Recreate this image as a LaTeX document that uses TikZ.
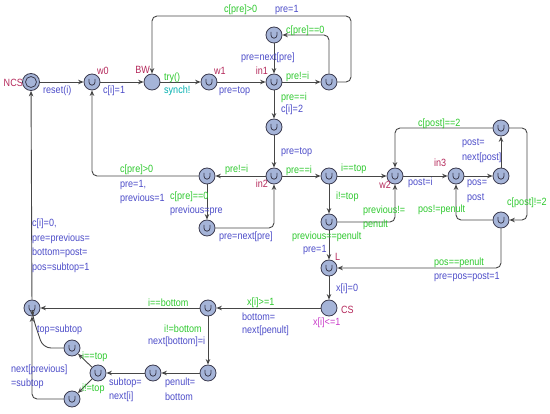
\documentclass[tikz,border=0pt]{standalone}
\usepackage{fontspec}
\setmainfont{Liberation Sans}[FakeStretch=0.86]
\usetikzlibrary{arrows.meta}
\definecolor{nfill}{RGB}{165,180,216}
\definecolor{nline}{RGB}{60,60,80}
\definecolor{ecol}{RGB}{70,70,70}
\definecolor{gcol}{RGB}{45,200,45}
\definecolor{acol}{RGB}{75,75,200}
\definecolor{ncol}{RGB}{180,40,90}
\definecolor{scol}{RGB}{0,175,175}
\definecolor{icol}{RGB}{200,60,200}
\tikzset{
  loc/.style={circle, draw=nline, fill=nfill, line width=0.8pt, minimum size=16pt, inner sep=0pt},
  urg/.style={loc, path picture={\draw[nline, line width=0.8pt] ([xshift=-3pt,yshift=3.2pt]path picture bounding box.center) -- ++(0,-3.4pt) arc (180:360:3pt) -- ++(0,3.4pt);}},
  initloc/.style={loc, minimum size=17pt, path picture={\draw[nline, line width=0.8pt] (path picture bounding box.center) circle (5.5pt);}},
  arr/.style={draw=ecol, line width=0.9pt, -{Stealth[length=5.5pt,width=4.5pt]}, rounded corners=5pt},
  lbl/.style={font=\fontsize{10.5}{11}\selectfont, inner sep=0pt, anchor=west},
  grd/.style={lbl, text=gcol},
  asg/.style={lbl, text=acol},
  lname/.style={lbl, text=ncol},
  syn/.style={lbl, text=scol},
  inv/.style={lbl, text=icol}
}
\begin{document}
\begin{tikzpicture}[x=1pt,y=-1pt]
\useasboundingbox (0,0) rectangle (550,414);
% locations
\node[initloc] (NCS) at (31,82) {};
\node[urg] (w0) at (92,82) {};
\node[loc] (BW) at (152,82) {};
\node[urg] (w1) at (209,82) {};
\node[urg] (in1) at (274,82) {};
\node[urg] (a1) at (274,35) {};
\node[urg] (b1) at (329,82) {};
\node[urg] (c1) at (274,127) {};
\node[urg] (in2) at (274,176) {};
\node[urg] (d1) at (207,176) {};
\node[urg] (d2) at (207,228) {};
\node[urg] (e1) at (329,176) {};
\node[urg] (e2) at (329,222) {};
\node[urg] (w2) at (395,176) {};
\node[urg] (in3) at (456,176) {};
\node[urg] (f1) at (501,176) {};
\node[urg] (f2) at (501,128) {};
\node[urg] (f3) at (501,220) {};
\node[urg] (L) at (329,268) {};
\node[loc] (CS) at (329,308) {};
\node[urg] (g0) at (32,308) {};
\node[urg] (g1) at (208,308) {};
\node[urg] (g2) at (208,373) {};
\node[urg] (g3) at (153,373) {};
\node[urg] (g4) at (98,373) {};
\node[urg] (g5) at (72,348) {};
\node[urg] (g6) at (72,399) {};
% location names
\node[lname, anchor=east] (nNCS) at (23,83) {NCS};
\node[lname] (nw0) at (97,71) {w0};
\node[lname, anchor=east] (nBW) at (150,70) {BW};
\node[lname] (nw1) at (214,71) {w1};
\node[lname, anchor=east] (nin1) at (268,71) {in1};
\node[lname, anchor=east] (nin2) at (268,184) {in2};
\node[lname, anchor=east] (nw2) at (391,185) {w2};
\node[lname] (nin3) at (434,163) {in3};
\node[lname] (nL) at (335,257) {L};
\node[lname] (nCS) at (341,310) {CS};
\node[inv] (iCS) at (313,323) {x[i]<=1};
% edges
\draw[arr] (NCS) -- (w0);
\draw[arr] (w0) -- (BW);
\draw[arr] (BW) -- (w1);
\draw[arr] (w1) -- (in1);
\draw[arr] (in1) -- (b1);
\draw[arr] (b1) -- (329,35) -- (a1);
\draw[arr] (a1) -- (in1);
\draw[arr] (b1) -- (351,82) -- (351,16) -- (152,16) -- (BW);
\draw[arr] (in1) -- (c1);
\draw[arr] (c1) -- (in2);
\draw[arr] (in2) -- (d1);
\draw[arr] (d1) -- (92,176) -- (w0);
\draw[arr] (d1) -- (d2);
\draw[arr] (d2) -- (274,228) -- (in2);
\draw[arr] (in2) -- (e1);
\draw[arr] (e1) -- (w2);
\draw[arr] (e1) -- (e2);
\draw[arr] (e2) -- (395,222) -- (w2);
\draw[arr] (e2) -- (L);
\draw[arr] (w2) -- (in3);
\draw[arr] (in3) -- (f1);
\draw[arr] (f1) -- (f2);
\draw[arr] (f2) -- (395,128) -- (w2);
\draw[arr] (f2) -- (527,128) -- (527,220) -- (f3);
\draw[arr] (f3) -- (456,220) -- (in3);
\draw[arr] (f3) -- (501,268) -- (L);
\draw[arr] (L) -- (CS);
\draw[arr] (CS) -- (g1);
\draw[arr] (g1) -- (g0);
\draw[arr] (g1) -- (g2);
\draw[arr] (g2) -- (g3);
\draw[arr] (g3) -- (g4);
\draw[arr] (g4) -- (g5);
\draw[arr] (g4) -- (g6);
\draw[arr, rounded corners=8pt] (g5) -- (43,348) -- (33,318) -- (g0);
\draw[arr] (g6) -- (32,399) -- (g0);
\draw[arr] (g0) -- (NCS);
% edge labels
\node[asg] (t1) at (43,91) {reset(i)};
\node[asg] (t2) at (103,91) {c[i]=1};
\node[grd] (t3) at (164,78) {try()};
\node[syn] (t4) at (164,91) {synch!};
\node[asg] (t5) at (219,91) {pre=top};
\node[grd] (t6) at (224,10) {c[pre]>0};
\node[asg] (t7) at (275,10) {pre=1};
\node[grd] (t8) at (286,31) {c[pre]==0};
\node[asg] (t9) at (241,58) {pre=next[pre]};
\node[grd] (t10) at (286,77) {pre!=i};
\node[grd] (t11) at (281,98) {pre==i};
\node[asg] (t12) at (281,110) {c[i]=2};
\node[asg] (t13) at (281,152) {pre=top};
\node[grd] (t14) at (225,170) {pre!=i};
\node[grd] (t15) at (120,170) {c[pre]>0};
\node[asg] (t16) at (120,185) {pre=1,};
\node[asg] (t17) at (120,199) {previous=1};
\node[grd] (t18) at (170,197) {c[pre]==0};
\node[asg] (t19) at (170,211) {previous=pre};
\node[asg] (t20) at (219,237) {pre=next[pre]};
\node[grd] (t21) at (286,171) {pre==i};
\node[grd] (t22) at (341,169) {i==top};
\node[grd] (t23) at (336,197) {i!=top};
\node[grd] (t24) at (363,211) {previous!=};
\node[grd] (t25) at (363,225) {penult};
\node[grd] (t26) at (292,237) {previous==penult};
\node[asg] (t27) at (303,250) {pre=1};
\node[asg] (t28) at (408,183) {post=i};
\node[asg] (t29) at (467,184) {pos=};
\node[asg] (t30) at (467,198) {post};
\node[asg] (t31) at (462,143) {post=};
\node[asg] (t32) at (462,158) {next[post]};
\node[grd] (t33) at (418,124) {c[post]==2};
\node[grd] (t34) at (507,203) {c[post]!=2};
\node[grd] (t35) at (418,210) {pos!=penult};
\node[grd] (t36) at (434,263) {pos==penult};
\node[asg] (t37) at (434,277) {pre=pos=post=1};
\node[asg] (t38) at (336,289) {x[i]=0};
\node[grd] (t39) at (247,303) {x[i]>=1};
\node[asg] (t40) at (242,317) {bottom=};
\node[asg] (t41) at (242,331) {next[penult]};
\node[grd] (t42) at (148,303) {i==bottom};
\node[grd] (t43) at (164,329) {i!=bottom};
\node[asg] (t44) at (148,342) {next[bottom]=i};
\node[asg] (t45) at (165,383) {penult=};
\node[asg] (t46) at (165,397) {bottom};
\node[asg] (t47) at (109,383) {subtop=};
\node[asg] (t48) at (109,397) {next[i]};
\node[grd] (t49) at (82,357) {i==top};
\node[grd] (t50) at (82,389) {i!=top};
\node[asg] (t51) at (37,330) {top=subtop};
\node[asg] (t52) at (11,370) {next[previous]};
\node[asg] (t53) at (11,384) {=subtop};
\node[asg] (t54) at (32,224) {c[i]=0,};
\node[asg] (t55) at (32,239) {pre=previous=};
\node[asg] (t56) at (32,253) {bottom=post=};
\node[asg] (t57) at (32,268) {pos=subtop=1};
\end{tikzpicture}
\end{document}
